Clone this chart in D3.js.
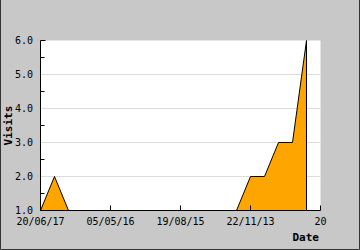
<!DOCTYPE html>
<html>
<head>
<meta charset="utf-8">
<script src="https://cdn.jsdelivr.net/npm/d3@7"></script>
<style>
  body { margin: 0; background: #c8c8c8; }
  text { font-family: "DejaVu Sans Mono", monospace; font-size: 10px; fill: #000; }
  .title { font-size: 11px; font-weight: bold; }
</style>
</head>
<body>
<div id="chart"></div>
<script>
// visits per point, left to right
const visits = [1, 2, 1, 1, 1, 1, 1, 1, 1, 1, 1, 1, 1, 1, 1, 2, 2, 3, 3, 6];
// x tick labels at every 5th point
const tickIdx = [0, 5, 10, 15, 20];
const tickLabels = ["20/06/17", "05/05/16", "19/08/15", "22/11/13", "20"];
const yTicks = [1, 2, 3, 4, 5, 6];
const yMinor = [1.5, 2.5, 3.5, 4.5, 5.5];

const width = 360;
const height = 250;

const svg = d3.select("#chart").append("svg")
  .attr("width", width).attr("height", height);

// frame (left, right, bottom)
svg.append("path")
  .attr("d", "M0.5,0 V249.5 H359.5 V0")
  .attr("fill", "none").attr("stroke", "#333");

const x = d3.scaleLinear().domain([0, 20]).range([40.5, 320.5]);
const y = d3.scaleLinear().domain([1, 6]).range([210.5, 40.5]);

// plot background
svg.append("rect")
  .attr("x", x(0)).attr("y", y(6))
  .attr("width", x(20) - x(0)).attr("height", y(1) - y(6))
  .attr("fill", "#fff");

// gridlines
svg.selectAll(".grid").data(yTicks.filter(d => d > 1 && d < 6)).join("line")
  .attr("x1", x(0)).attr("x2", x(20))
  .attr("y1", d => y(d)).attr("y2", d => y(d))
  .attr("stroke", "#dcdcdc");

// area
const area = d3.area()
  .x((d, i) => x(i))
  .y0(y(1))
  .y1(d => y(d));
svg.append("path")
  .datum(visits)
  .attr("d", area)
  .attr("fill", "#ffa500")
  .attr("stroke", "#000")
  .attr("stroke-width", 1);

// axes lines
svg.append("line").attr("x1", x(0)).attr("x2", x(0)).attr("y1", y(6)).attr("y2", y(1)).attr("stroke", "#000");
svg.append("line").attr("x1", x(0)).attr("x2", x(20)).attr("y1", y(1)).attr("y2", y(1)).attr("stroke", "#000");

// y ticks
svg.append("line").attr("x1", x(0)).attr("x2", x(0) + 5).attr("y1", y(6)).attr("y2", y(6)).attr("stroke", "#000");
svg.selectAll(".ymin").data(yMinor).join("line")
  .attr("x1", x(0)).attr("x2", x(0) + 4)
  .attr("y1", d => y(d)).attr("y2", d => y(d))
  .attr("stroke", "#000");
svg.selectAll(".ylab").data(yTicks).join("text")
  .attr("x", 33).attr("y", d => y(d))
  .attr("dy", "0.35em")
  .attr("text-anchor", "end")
  .text(d => d.toFixed(1));

// x ticks
svg.selectAll(".xt").data(tickIdx.slice(1)).join("line")
  .attr("x1", d => x(d)).attr("x2", d => x(d))
  .attr("y1", y(1)).attr("y2", y(1) - 5)
  .attr("stroke", "#000");
svg.selectAll(".xlab").data(tickIdx).join("text")
  .attr("x", d => x(d)).attr("y", 225)
  .attr("text-anchor", "middle")
  .text((d, i) => tickLabels[i]);

// axis titles
svg.append("text")
  .attr("class", "title")
  .attr("x", 319).attr("y", 241)
  .attr("text-anchor", "end")
  .text("Date");
svg.append("text")
  .attr("class", "title")
  .attr("transform", `translate(12,${(y(1) + y(6)) / 2}) rotate(-90)`)
  .attr("text-anchor", "middle")
  .text("Visits");
</script>
</body>
</html>
